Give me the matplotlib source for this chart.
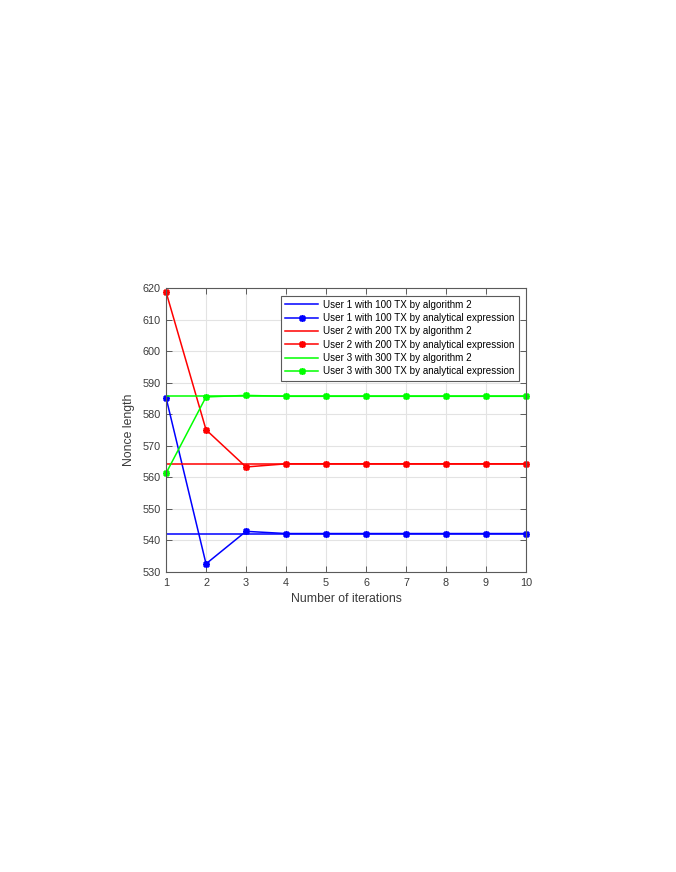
import matplotlib
matplotlib.use("Agg")
import matplotlib.pyplot as plt
import numpy as np

plt.rcParams["font.family"] = ["Liberation Sans", "DejaVu Sans"]

# datos
iterations = np.arange(1, 11)
u1_alg = [542.2] * 10
u1_ana = [585.3, 532.6, 542.9, 542.2, 542.2, 542.2, 542.2, 542.2, 542.2, 542.2]
u2_alg = [564.3] * 10
u2_ana = [618.8, 575.1, 563.3, 564.3, 564.3, 564.3, 564.3, 564.3, 564.3, 564.3]
u3_alg = [585.7] * 10
u3_ana = [561.3, 585.5, 586.0, 585.7, 585.7, 585.7, 585.7, 585.7, 585.7, 585.7]

labels = [
    "User 1 with 100 TX by algorithm 2",
    "User 1 with 100 TX by analytical expression",
    "User 2 with 200 TX by algorithm 2",
    "User 2 with 200 TX by analytical expression",
    "User 3 with 300 TX by algorithm 2",
    "User 3 with 300 TX by analytical expression",
]

fig = plt.figure(figsize=(6.76, 8.72), dpi=100)
ax = fig.add_axes([0.2456, 0.3440, 0.5325, 0.3256])

# marcador tipo asterisco como en MATLAB
star = (8, 2, 0)
ax.plot(iterations, u1_alg, "-", color=(0, 0, 1), lw=1.1, label=labels[0])
ax.plot(iterations, u1_ana, "-", marker=star, color=(0, 0, 1), lw=1.1, ms=5, mew=1.2,
        clip_on=False, label=labels[1])
ax.plot(iterations, u2_alg, "-", color=(1, 0, 0), lw=1.1, label=labels[2])
ax.plot(iterations, u2_ana, "-", marker=star, color=(1, 0, 0), lw=1.1, ms=5, mew=1.2,
        clip_on=False, label=labels[3])
ax.plot(iterations, u3_alg, "-", color=(0, 1, 0), lw=1.1, label=labels[4])
ax.plot(iterations, u3_ana, "-", marker=star, color=(0, 1, 0), lw=1.1, ms=5, mew=1.2,
        clip_on=False, label=labels[5])

ax.set_xlim(1, 10)
ax.set_ylim(530, 620)
ax.set_xticks(iterations)
ax.set_yticks(np.arange(530, 621, 10))
ax.grid(True, color="#e3e3e3", linewidth=0.8)
ax.set_axisbelow(True)

for s in ax.spines.values():
    s.set_color("#5a5a5a")
    s.set_linewidth(0.8)
ax.tick_params(direction="in", top=True, right=True, length=4, width=0.7,
               color="#5a5a5a", labelcolor="#3a3a3a", labelsize=7.8, pad=4)

ax.set_xlabel("Number of iterations", fontsize=8.8, color="#3a3a3a", labelpad=4)
ax.set_ylabel("Nonce length", fontsize=8.8, color="#3a3a3a", labelpad=5)

leg = ax.legend(loc="upper right", fontsize=7.1, frameon=True, fancybox=False,
                edgecolor="#5a5a5a", framealpha=1, handlelength=3.3,
                borderpad=0.45, labelspacing=0.33, handletextpad=0.5,
                borderaxespad=0.75)
leg.get_frame().set_linewidth(0.8)

fig.savefig("out.png", dpi=100)
